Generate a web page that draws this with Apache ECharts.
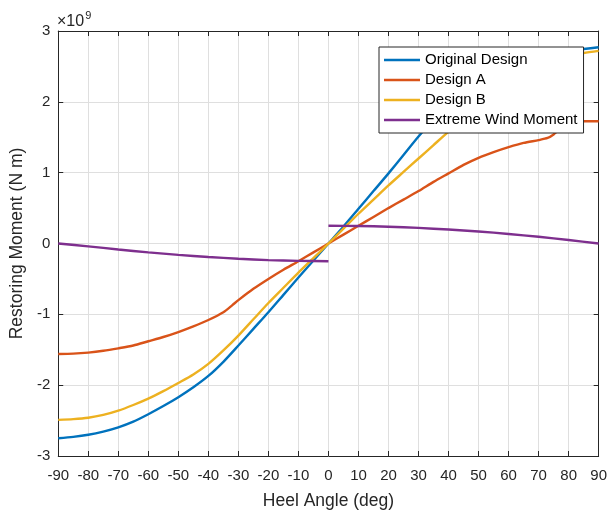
<!DOCTYPE html>
<html>
<head>
<meta charset="utf-8">
<title>Restoring Moment vs Heel Angle</title>
<script src="https://cdn.jsdelivr.net/npm/echarts@6/dist/echarts.min.js"></script>
<style>
  html, body { margin: 0; padding: 0; background: #fff; }
  #chart { width: 610px; height: 515px; }
</style>
</head>
<body>
<div id="chart"></div>
<script>
// Restoring moment curves, values in units of 1e9 N·m
const seriesNames = ['Original Design', 'Design A', 'Design B', 'Extreme Wind Moment'];

const originalAngles = [-90, -85, -80, -75, -70, -65, -60, -55, -50, -45, -40, -35, -30, -25, -20, -15, -10, -5, 0,
  5, 10, 15, 20, 25, 30, 35, 40, 45, 50, 55, 60, 65, 70, 75, 80, 85, 90];
const originalMoment = [-2.75, -2.73, -2.70, -2.655, -2.595, -2.515, -2.41, -2.295, -2.17, -2.03, -1.87, -1.67, -1.44, -1.205, -0.97, -0.725, -0.48, -0.24, 0,
  0.24, 0.49, 0.74, 0.99, 1.25, 1.51, 1.75, 1.97, 2.15, 2.30, 2.42, 2.52, 2.60, 2.66, 2.70, 2.72, 2.745, 2.77];

const designAAngles = [-90, -85, -80, -75, -70, -65, -60, -55, -50, -45, -40, -35, -32, -30, -25, -20, -15, -10, -5, 0,
  5, 10, 15, 20, 25, 30, 35, 40, 45, 50, 55, 60, 65, 70, 73, 75, 77, 80, 83, 85, 90];
const designAMoment = [-1.56, -1.555, -1.54, -1.515, -1.48, -1.44, -1.38, -1.32, -1.25, -1.17, -1.08, -0.97, -0.87, -0.80, -0.64, -0.50, -0.37, -0.25, -0.125, 0,
  0.125, 0.25, 0.375, 0.50, 0.62, 0.74, 0.87, 0.99, 1.11, 1.21, 1.29, 1.36, 1.42, 1.46, 1.49, 1.54, 1.61, 1.69, 1.72, 1.725, 1.725];

const designBAngles = [-90, -85, -80, -75, -70, -65, -60, -55, -50, -45, -40, -35, -30, -25, -20, -15, -10, -5, 0,
  5, 10, 15, 20, 25, 30, 35, 40, 45, 50, 55, 60, 65, 70, 75, 80, 85, 90];
const designBMoment = [-2.49, -2.48, -2.46, -2.42, -2.36, -2.28, -2.19, -2.085, -1.97, -1.85, -1.70, -1.51, -1.30, -1.07, -0.84, -0.625, -0.41, -0.205, 0,
  0.21, 0.42, 0.62, 0.82, 1.01, 1.20, 1.39, 1.58, 1.76, 1.93, 2.08, 2.22, 2.35, 2.46, 2.56, 2.64, 2.69, 2.72];

// Wind heeling moment, drawn as two separate branches (port / starboard)
const windAnglesPort = [-90, -80, -70, -60, -50, -40, -30, -20, -10, 0];
const windMomentPort = [0, -0.04, -0.085, -0.125, -0.16, -0.19, -0.215, -0.235, -0.245, -0.25];
const windAnglesStbd = [0, 10, 20, 30, 40, 50, 60, 70, 80, 90];
const windMomentStbd = [0.25, 0.247, 0.237, 0.22, 0.197, 0.17, 0.135, 0.095, 0.05, 0];

const xTicks = { min: -90, max: 90, step: 10 };
const yTicks = { min: -3, max: 3, step: 1 };

const colors = ['#0072BD', '#D95319', '#EDB120', '#7E2F8E'];
const FONT = '"Liberation Sans", Arial, Helvetica, sans-serif';
const INK = '#262626';

function pairs(xs, ys) {
  return xs.map((x, i) => [x, ys[i]]);
}

function lineSeries(name, xs, ys, color) {
  return {
    name: name,
    type: 'line',
    xAxisIndex: 0,
    yAxisIndex: 0,
    data: pairs(xs, ys),
    showSymbol: false,
    symbol: 'none',
    smooth: 0.25,
    clip: true,
    lineStyle: { color: color, width: 2.4 },
    itemStyle: { color: color },
    emphasis: { disabled: true },
    animation: false
  };
}

const frameAxisX = (position, withLabels) => ({
  type: 'value',
  position: position,
  min: xTicks.min,
  max: xTicks.max,
  interval: xTicks.step,
  axisLine: { show: true, onZero: false, lineStyle: { color: INK, width: 1 } },
  axisTick: { show: true, inside: true, length: 5, lineStyle: { color: INK, width: 1 } },
  axisLabel: withLabels
    ? { show: true, color: INK, fontSize: 15, fontFamily: FONT, margin: 12 }
    : { show: false },
  splitLine: withLabels
    ? { show: true, lineStyle: { color: '#dfdfdf', width: 1 } }
    : { show: false },
  name: withLabels ? 'Heel Angle (deg)' : '',
  nameLocation: 'middle',
  nameGap: 36,
  nameTextStyle: { color: INK, fontSize: 17.5, fontFamily: FONT }
});

const frameAxisY = (position, withLabels) => ({
  type: 'value',
  position: position,
  min: yTicks.min,
  max: yTicks.max,
  interval: yTicks.step,
  axisLine: { show: true, onZero: false, lineStyle: { color: INK, width: 1 } },
  axisTick: { show: true, inside: true, length: 5, lineStyle: { color: INK, width: 1 } },
  axisLabel: withLabels
    ? { show: true, color: INK, fontSize: 15, fontFamily: FONT, margin: 8 }
    : { show: false },
  splitLine: withLabels
    ? { show: true, lineStyle: { color: '#dfdfdf', width: 1 } }
    : { show: false },
  name: withLabels ? 'Restoring Moment (N m)' : '',
  nameLocation: 'middle',
  nameGap: 28,
  nameTextStyle: { color: INK, fontSize: 17.5, fontFamily: FONT }
});

const chart = echarts.init(document.getElementById('chart'), null, { renderer: 'canvas' });

chart.setOption({
  backgroundColor: '#ffffff',
  animation: false,
  grid: { left: 56, top: 31, right: 11, bottom: 57, containLabel: false },
  xAxis: [frameAxisX('bottom', true), frameAxisX('top', false)],
  yAxis: [frameAxisY('left', true), frameAxisY('right', false)],
  legend: {
    orient: 'vertical',
    left: 379,
    top: 47,
    data: seriesNames,
    icon: 'rect',
    itemWidth: 36,
    itemHeight: 2.4,
    itemGap: 0,
    padding: [3, 6, 3, 5],
    backgroundColor: '#ffffff',
    borderColor: INK,
    borderWidth: 1,
    selectedMode: false,
    textStyle: { color: '#000000', fontSize: 15, fontFamily: FONT, lineHeight: 20 }
  },
  graphic: [{
    type: 'text',
    left: 57,
    top: 10,
    silent: true,
    style: {
      text: '{a|×10}{b|9}',
      rich: {
        a: { fontSize: 16, fontFamily: FONT, fill: INK, lineHeight: 20, verticalAlign: 'bottom' },
        b: { fontSize: 11, fontFamily: FONT, fill: INK, lineHeight: 20, verticalAlign: 'top', padding: [0, 0, 0, 1] }
      }
    }
  }],
  series: [
    lineSeries(seriesNames[0], originalAngles, originalMoment, colors[0]),
    lineSeries(seriesNames[1], designAAngles, designAMoment, colors[1]),
    lineSeries(seriesNames[2], designBAngles, designBMoment, colors[2]),
    lineSeries(seriesNames[3], windAnglesPort, windMomentPort, colors[3]),
    lineSeries(seriesNames[3], windAnglesStbd, windMomentStbd, colors[3])
  ]
});
</script>
</body>
</html>
